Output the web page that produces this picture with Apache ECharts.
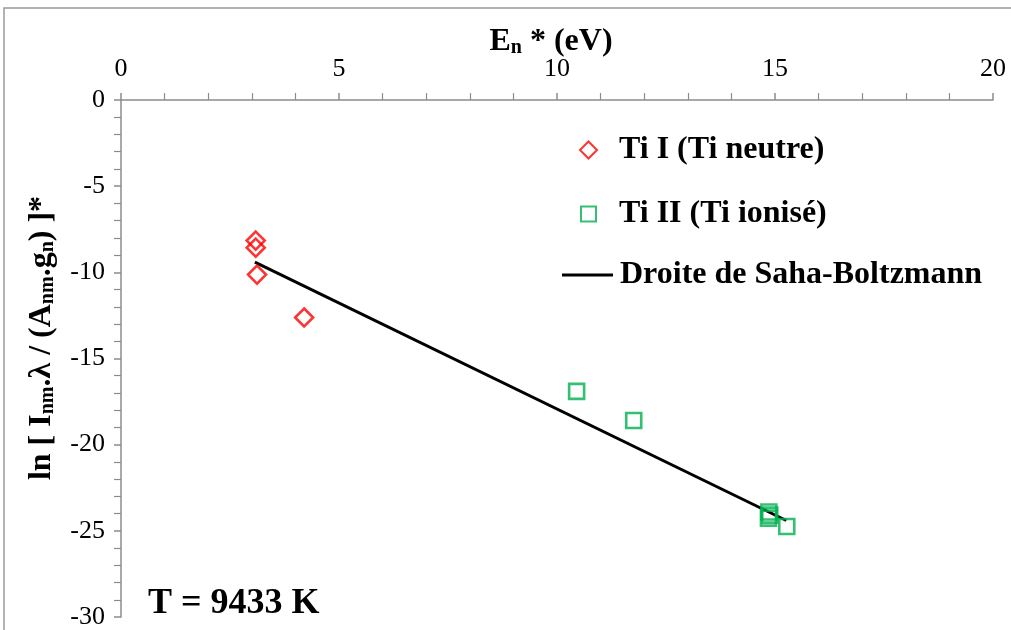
<!DOCTYPE html>
<html><head><meta charset="utf-8">
<script src="https://cdn.jsdelivr.net/npm/echarts@6/dist/echarts.min.js"></script>
<style>html,body{margin:0;padding:0;background:#fff}#c{width:1011px;height:630px}</style>
</head><body><div id="c"></div>
<script>
// Data
const tiI_x = [3.09, 3.09, 3.12, 4.20];
const tiI_y = [-8.16, -8.57, -10.13, -12.62];
const tiII_x = [10.45, 11.76, 14.86, 14.88, 14.85, 15.27];
const tiII_y = [-16.91, -18.60, -23.91, -24.09, -24.26, -24.75];
const fit_x = [3.07, 15.26];
const fit_y = [-9.41, -24.40];
const xTicks = [0, 5, 10, 15, 20];
const yTicks = [0, -5, -10, -15, -20, -25, -30];
const names = ['Ti I (Ti neutre)', 'Ti II (Ti ionisé)', 'Droite de Saha-Boltzmann'];

const F = '"Liberation Serif","Times New Roman",serif';
const zip = (a, b) => a.map((v, i) => [v, b[i]]);
const chart = echarts.init(document.getElementById('c'));
const txt = {fontFamily: F, fontSize: 32, fontWeight: 'bold', color: '#000'};
const richT = {
  a: {fontFamily: F, fontSize: 32, fontWeight: 'bold', fill: '#000', lineHeight: 36, verticalAlign: 'bottom'},
  s: {fontFamily: F, fontSize: 20, fontWeight: 'bold', fill: '#000', lineHeight: 12, verticalAlign: 'bottom', padding: [10, 0, 0, 0]}
};
chart.setOption({
  animation: false,
  backgroundColor: '#fff',
  grid: {left: 121, right: 18, top: 100, bottom: 12},
  xAxis: {
    type: 'value', position: 'top', min: 0, max: 20, interval: 5,
    axisLine: {show: true, onZero: false, lineStyle: {color: '#8c8c8c', width: 1.5}},
    axisTick: {show: true, length: 7, lineStyle: {color: '#8c8c8c', width: 1.5}},
    minorTick: {show: true, splitNumber: 5, length: 7, lineStyle: {color: '#8c8c8c', width: 1.2}},
    splitLine: {show: false},
    axisLabel: {fontFamily: F, fontSize: 26, color: '#000', margin: 18,
      formatter: v => xTicks.includes(v) ? String(v) : ''}
  },
  yAxis: {
    type: 'value', min: -30, max: 0, interval: 5,
    axisLine: {show: true, onZero: false, lineStyle: {color: '#8c8c8c', width: 1.5}},
    axisTick: {show: true, length: 7, lineStyle: {color: '#8c8c8c', width: 1.5}},
    minorTick: {show: true, splitNumber: 5, length: 7, lineStyle: {color: '#8c8c8c', width: 1.2}},
    splitLine: {show: false},
    axisLabel: {fontFamily: F, fontSize: 26, color: '#000', margin: 16,
      formatter: v => yTicks.includes(v) ? String(v) : ''}
  },
  legend: [
    {left: 574, top: 129, itemWidth: 17, itemHeight: 17, selectedMode: false,
      textStyle: Object.assign({padding: [0, 0, 0, 17]}, txt),
      data: [{name: names[0], icon: 'diamond',
        itemStyle: {color: 'transparent', borderColor: '#ff0000', borderWidth: 2}}]},
    {left: 575, top: 193, itemWidth: 15, itemHeight: 15, selectedMode: false,
      textStyle: Object.assign({padding: [0, 0, 0, 18]}, txt),
      data: [{name: names[1], icon: 'rect',
        itemStyle: {color: 'transparent', borderColor: '#00b050', borderWidth: 2}}]},
    {left: 557, top: 254, itemWidth: 51, itemHeight: 3, selectedMode: false,
      textStyle: Object.assign({padding: [0, 0, 0, 2]}, txt),
      data: [{name: names[2], icon: 'rect', itemStyle: {color: '#000'}}]}
  ],
  series: [
    {name: names[2], type: 'line', data: zip(fit_x, fit_y), symbol: 'none',
      lineStyle: {color: '#000', width: 3}, itemStyle: {color: '#000'}, z: 1},
    {name: names[0], type: 'scatter', data: zip(tiI_x, tiI_y), symbol: 'diamond', symbolSize: 18,
      itemStyle: {color: 'transparent', borderColor: '#ff0000', borderWidth: 2.6}, z: 3},
    {name: names[1], type: 'scatter', data: zip(tiII_x, tiII_y), symbol: 'rect', symbolSize: 15,
      itemStyle: {color: 'transparent', borderColor: '#00b050', borderWidth: 2.6}, z: 3}
  ],
  graphic: [
    {type: 'rect', shape: {x: 4, y: 8, width: 1200, height: 800}, silent: true, z: -1,
      style: {fill: 'none', stroke: '#9a9a9a', lineWidth: 1.5}},
    {type: 'text', x: 551, y: 40, style: {
      text: '{a|E}{s|n}{a| * (eV)}', align: 'center', verticalAlign: 'middle', rich: richT}},
    {type: 'text', x: 40, y: 338, rotation: Math.PI / 2, style: {
      text: '{a|ln [ I}{s|nm}{a|.λ / (A}{s|nm}{a|.g}{s|n}{a|) ]*}', align: 'center', verticalAlign: 'middle', rich: richT}},
    {type: 'text', x: 148, y: 604, style: {
      text: 'T = 9433 K', align: 'left', verticalAlign: 'middle',
      font: 'bold 36px ' + F, fill: '#000'}}
  ]
});
</script></body></html>
